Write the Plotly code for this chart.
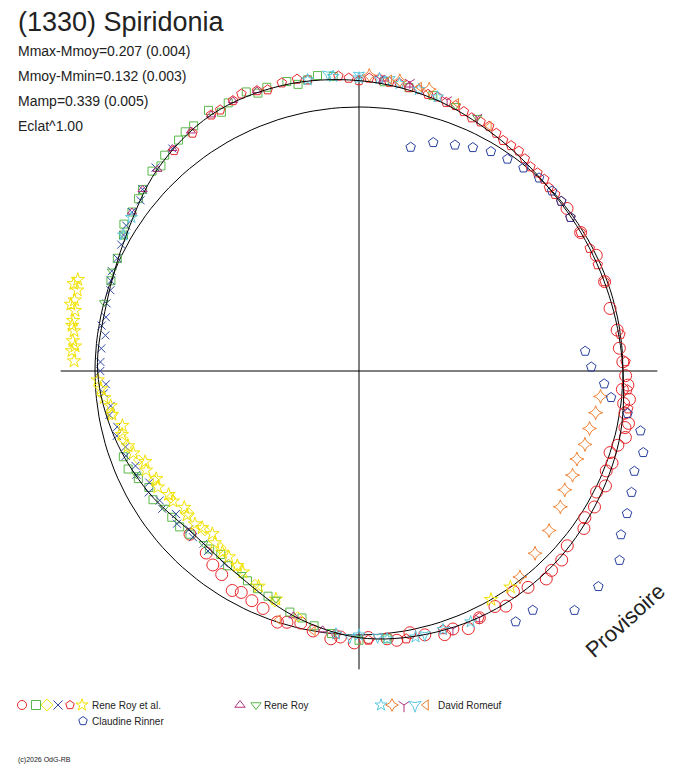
import numpy as np
import plotly.graph_objects as go

# Fitted curve: phase angle (deg) and radius (relative to mean)
curve_ang = [0,15,30,45,60,75,90,105,120,135,150,165,180,195,210,225,240,255,270,285,300,315,330,345,360]
curve_r   = [1.00,0.99,0.99,1.00,1.03,1.07,1.10,1.12,1.12,1.08,1.02,0.99,0.99,0.96,0.92,0.88,0.90,0.96,1.01,1.03,1.04,1.04,1.03,1.02,1.00]

red_c_ang = [2,-3,-6,-9,-12,-16,-20,-25,-30,-35,-40,-46,-52,-58,-64,-70,-76,-82,-88,-94,-100,-106,-112,-118,-124,-130,-136,5,9,14,-14,-22,-48,-60,-72,-84,-96,-108,-120,
             -1,-4,-7,-11,-18,-27,-33,-43,-55,-67,-79,-91,-103,-115,-127,20,26,32,38]
red_c_r   = [1.00,1.02,1.03,1.02,1.03,1.02,1.02,1.03,1.03,1.04,1.03,1.05,1.04,1.05,1.04,1.04,1.03,1.03,1.01,1.01,1.00,0.99,0.97,0.95,0.93,0.90,0.89,0.99,0.99,0.98,1.04,1.01,1.06,1.03,1.05,1.02,1.02,1.00,0.96,
             1.01,1.00,1.01,1.04,1.00,1.01,1.02,1.05,1.02,1.06,1.01,1.03,0.98,0.96,0.92,0.99,1.00,0.99,1.00]
green_s_ang = [95,100,104,108,112,116,120,124,128,132,136,140,145,150,155,160,200,206,212,218,224,230,236,242,248,254,260,85,80,75,
               98,102,110,118,126,134,142,148,203,209,221,233,245,257,264,270,276]
green_s_r   = [1.12,1.12,1.13,1.13,1.14,1.13,1.14,1.12,1.11,1.10,1.09,1.07,1.05,1.03,1.01,1.00,0.95,0.93,0.92,0.90,0.89,0.88,0.89,0.90,0.92,0.95,0.98,1.10,1.09,1.08,
               1.13,1.11,1.12,1.11,1.12,1.08,1.06,1.05,0.95,0.91,0.90,0.87,0.91,0.96,1.00,1.02,1.02]
yellow_d_ang = [190,196,202,208,214,220,226,232,238,244,250,256]
yellow_d_r   = [0.95,0.93,0.90,0.88,0.86,0.84,0.84,0.85,0.87,0.90,0.93,0.96]
blue_x_ang = [140,145,150,155,160,165,170,175,180,185,190,195,200,205,210,215,220,225,230,235,135,130,
              142,148,152,158,162,168,172,178,183,188,193,198,203,208,213,218,223,228]
blue_x_r   = [1.07,1.05,1.03,1.01,1.00,0.99,0.99,0.98,0.98,0.97,0.96,0.95,0.94,0.93,0.92,0.91,0.90,0.89,0.89,0.89,1.09,1.10,
              1.05,1.04,1.02,1.01,0.99,0.98,0.97,0.98,0.96,0.95,0.94,0.93,0.92,0.90,0.90,0.88,0.88,0.88]
red_p_ang = [92,88,84,80,76,72,68,64,60,56,52,48,44,40,36,32,28,24,20,100,105,110,115,120,125,130,265,272,280,288,296,
             94,90,86,82,78,74,70,66,62,58,54,50,46,42,102,108,113,118,-8,-4,2,8]
red_p_r   = [1.11,1.11,1.10,1.09,1.08,1.07,1.06,1.05,1.04,1.03,1.02,1.01,1.00,1.00,0.99,0.99,0.99,0.99,0.99,1.12,1.13,1.13,1.13,1.12,1.10,1.09,1.00,1.02,1.03,1.03,1.04,
             1.12,1.10,1.11,1.10,1.09,1.08,1.07,1.05,1.05,1.03,1.03,1.01,1.01,1.00,1.13,1.12,1.14,1.12,1.03,1.02,1.01,1.00]
yellow_h_ang = [162,164,166,168,170,172,174,176,178,182,186,190,195,200,205,210,215,220,225,230,235,240,245,250,300,305,
                163,167,171,175,184,188,193,198,203,208,213,218,223,228,233,238]
yellow_h_r   = [1.12,1.11,1.11,1.10,1.10,1.09,1.09,1.09,1.08,0.99,0.97,0.95,0.93,0.91,0.89,0.88,0.86,0.85,0.84,0.85,0.86,0.88,0.90,0.92,1.00,1.00,
                1.13,1.12,1.10,1.08,0.98,0.95,0.92,0.92,0.88,0.87,0.86,0.84,0.85,0.83,0.86,0.87]
mag_t_ang = [110,115,120,125,130,135,140,145,85,80,255,262]
mag_t_r   = [1.13,1.13,1.12,1.11,1.10,1.08,1.07,1.05,1.11,1.10,0.96,0.99]
green_v_ang = [150,158,165,205,215,228,240,250,70,65]
green_v_r   = [1.03,1.01,1.00,0.93,0.90,0.88,0.89,0.92,1.07,1.06]
cyan_s_ang = [100,95,90,86,82,78,74,265,270,276,282,288,294,150,146]
cyan_s_r   = [1.12,1.12,1.11,1.11,1.10,1.09,1.08,1.00,1.00,1.02,1.03,1.03,1.04,1.03,1.04]
orange_d_ang = [-6,-10,-14,-18,-22,-26,-30,-34,-40,-46,-52,88,82,76]
orange_d_r   = [0.92,0.91,0.90,0.90,0.89,0.90,0.90,0.92,0.94,0.96,0.99,1.12,1.11,1.10]
mag_y_ang = [86,80,72,65,-64,-70]
mag_y_r   = [1.11,1.11,1.08,1.06,1.04,1.04]
cyan_h_ang = [96,90,84,268,274,284]
cyan_h_r   = [1.13,1.12,1.11,1.01,1.01,1.03]
orange_l_ang = [84,78,70,62,-100,-108]
orange_l_r   = [1.11,1.10,1.08,1.05,1.00,0.99]
navy_p_ang = [77,72,67,63,59,55,51,47,43,40,36,5,1,-3,-6,-9,-12,-16,-20,-24,-28,-32,-36,-42,-48,-54,-58]
navy_p_r   = [0.87,0.91,0.93,0.95,0.97,0.98,0.99,1.00,1.00,1.00,0.99,0.86,0.88,0.93,0.96,1.03,1.09,1.12,1.11,1.13,1.15,1.17,1.22,1.22,1.22,1.12,1.12]

series = [
    ("circle-open", "#e8262a", 12, red_c_ang, red_c_r),
    ("square-open", "#5ab94a", 8, green_s_ang, green_s_r),
    ("diamond-open", "#f2e200", 8, yellow_d_ang, yellow_d_r),
    ("x-thin-open", "#3048a0", 8, blue_x_ang, blue_x_r),
    ("pentagon-open", "#e8262a", 10, red_p_ang, red_p_r),
    ("star-open", "#f2e200", 10, yellow_h_ang, yellow_h_r),
    ("triangle-up-open", "#b0307a", 8, mag_t_ang, mag_t_r),
    ("triangle-down-open", "#5ab94a", 8, green_v_ang, green_v_r),
    ("star-open", "#5bc8e0", 9, cyan_s_ang, cyan_s_r),
    ("star-diamond-open", "#f08030", 10, orange_d_ang, orange_d_r),
    ("y-down-open", "#b0307a", 8, mag_y_ang, mag_y_r),
    ("star-triangle-down-open", "#5bc8e0", 8, cyan_h_ang, cyan_h_r),
    ("triangle-left-open", "#f08030", 8, orange_l_ang, orange_l_r),
    ("pentagon-open", "#2840a0", 10, navy_p_ang, navy_p_r),
]

fig = go.Figure()
t = np.radians(np.arange(0, 361, 2))
fig.add_trace(go.Scatter(x=np.cos(t), y=np.sin(t), mode="lines", line=dict(color="black", width=1), hoverinfo="skip"))
fig.add_trace(go.Scatter(x=[-1.13, 1.13], y=[0, 0], mode="lines", line=dict(color="black", width=1)))
fig.add_trace(go.Scatter(x=[0, 0], y=[-1.13, 1.12], mode="lines", line=dict(color="black", width=1)))

for sym, col, sz, a, r in series:
    a = np.radians(a); r = np.array(r)
    fig.add_trace(go.Scatter(x=r*np.cos(a), y=r*np.sin(a), mode="markers",
                             marker=dict(symbol=sym, color=col, size=sz, line=dict(color=col, width=1))))

ca = np.radians(curve_ang); cr = np.array(curve_r)
fig.add_trace(go.Scatter(x=cr*np.cos(ca), y=cr*np.sin(ca), mode="lines",
                         line=dict(color="black", width=1, shape="spline")))

# screenshot pixel -> data units (page has 8px body margin)
def px(x): return (x - 359) / 264
def py(y): return (371 - y) / 264
leg = [
    (22, 705, "circle-open", "#e8262a"), (36, 705, "square-open", "#5ab94a"), (47, 705, "diamond-open", "#f2e200"),
    (58, 705, "x-thin-open", "#3048a0"), (70, 705, "pentagon-open", "#e8262a"), (82, 705, "star-open", "#f2e200"),
    (83, 721, "pentagon-open", "#2840a0"),
    (240, 705, "triangle-up-open", "#b0307a"), (256, 705, "triangle-down-open", "#5ab94a"),
    (381, 705, "star-open", "#5bc8e0"), (392, 705, "star-diamond-open", "#f08030"), (404, 705, "y-down-open", "#b0307a"),
    (415, 705, "star-triangle-down-open", "#5bc8e0"), (426, 705, "triangle-left-open", "#f08030"),
]
for x, y, s, c in leg:
    fig.add_trace(go.Scatter(x=[px(x)], y=[py(y)], mode="markers",
                             marker=dict(symbol=s, color=c, size=9, line=dict(color=c, width=1))))

ann = [
    (90, 705, "Rene Roy et al."), (90, 721, "Claudine Rinner"), (262, 705, "Rene Roy"), (436, 705, "David Romeuf"),
]
for x, y, txt in ann:
    fig.add_annotation(x=px(x), y=py(y), text=txt, showarrow=False, xanchor="left",
                       font=dict(family="Liberation Sans", size=10, color="#222"))

fig.add_annotation(x=px(16), y=py(22), text="(1330) Spiridonia", showarrow=False, xanchor="left",
                   font=dict(family="Liberation Sans", size=27, color="#222"))
for i, txt in enumerate(["Mmax-Mmoy=0.207 (0.004)", "Mmoy-Mmin=0.132 (0.003)", "Mamp=0.339 (0.005)", "Eclat^1.00"]):
    fig.add_annotation(x=px(16), y=py(51 + 25*i), text=txt, showarrow=False, xanchor="left",
                       font=dict(family="Liberation Sans", size=14, color="#222"))
fig.add_annotation(x=px(16), y=py(760), text="(c)2026 OdG-RB", showarrow=False, xanchor="left",
                   font=dict(family="Liberation Sans", size=7, color="#222"))
fig.add_annotation(x=px(625), y=py(620), text="Provisoire", showarrow=False, textangle=-42,
                   font=dict(family="Liberation Sans", size=22, color="#222"))

fig.update_layout(width=688, height=768, margin=dict(l=0, r=0, t=0, b=0), showlegend=False,
                  paper_bgcolor="white", plot_bgcolor="white",
                  xaxis=dict(range=[px(8), px(696)], visible=False, fixedrange=True),
                  yaxis=dict(range=[py(776), py(8)], visible=False, fixedrange=True))
fig.write_html("out.html")
